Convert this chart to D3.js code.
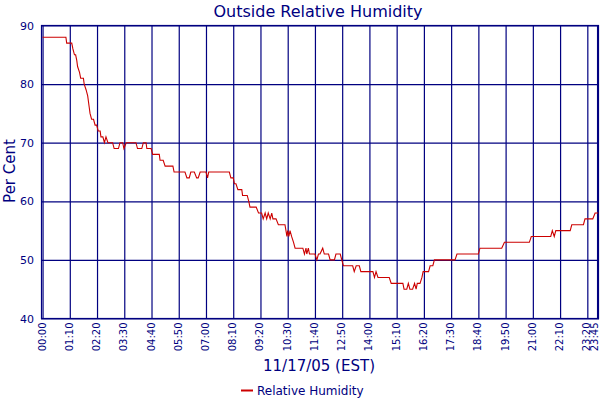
<!DOCTYPE html>
<html>
<head>
<meta charset="utf-8">
<script src="https://cdn.jsdelivr.net/npm/d3@7/dist/d3.min.js"></script>
<style>
  html, body { margin: 0; padding: 0; background: #fff; }
  svg { display: block; font-family: "DejaVu Sans", Verdana, sans-serif; }
</style>
</head>
<body>
<svg id="chart" width="600" height="400"></svg>
<script>
// ---- data (minutes since midnight, relative humidity %) ----
const times = [0,60,62,75,78,82,85,88,90,95,98,105,107,112,116,120,122,126,131,135,139,143,148,150,155,159,163,168,180,184,195,199,206,209,215,240,244,255,259,266,268,279,283,300,302,310,315,335,338,366,371,377,381,390,396,400,405,420,424,427,480,484,490,493,497,502,508,512,514,523,526,530,533,549,555,563,567,572,576,580,585,589,592,600,606,623,628,630,633,636,640,645,649,669,673,677,679,683,686,700,705,709,713,720,724,735,739,750,754,765,769,773,797,801,806,814,818,849,853,857,862,866,891,896,926,929,936,940,944,951,956,960,963,970,975,978,981,992,996,1003,1007,1060,1065,1120,1124,1135,1180,1187,1251,1256,1306,1310,1315,1319,1356,1360,1390,1394,1414,1420,1428];
const humidity = [88,88,87,87,86,85,85,84,83,82,81,81,80,79,78,76,75,74,74,73,73,72,72,71,71,70,71,70,70,69,69,70,70,69,70,70,69,69,70,70,69,69,68,68,67,67,66,66,65,65,64,64,65,65,64,64,65,65,64,65,65,64,64,63,63,62,62,62,61,61,61,60,59,59,58,58,57,58,57,58,57,58,57,57,56,56,54,55,54,55,54,53,52,52,51,52,51,52,51,51,50,51,51,52,51,51,50,50,51,51,50,49,49,48,49,49,48,48,47,48,47,47,47,46,46,45,45,46,45,45,46,45,46,46,47,48,48,48,49,49,50,50,51,51,52,52,52,53,53,54,54,55,54,55,55,56,56,57,57,58,58];
const xTickMinutes = [0,70,140,210,280,350,420,490,560,630,700,770,840,910,980,1050,1120,1190,1260,1330,1400,1425];
const xTickLabels = ["00:00","01:10","02:20","03:30","04:40","05:50","07:00","08:10","09:20","10:30","11:40","12:50","14:00","15:10","16:20","17:30","18:40","19:50","21:00","22:10","23:20","23:45"];
const yTicks = [40,50,60,70,80,90];
const titleText = "Outside Relative Humidity";
const xTitleText = "11/17/05 (EST)";
const yTitleText = "Per Cent";
const seriesName = "Relative Humidity";

// ---- drawing ----
const navy = "#000080";
const red = "#cc0000";
const svg = d3.select("#chart");
const plot = { left: 41, right: 599, top: 25.5, bottom: 318.5 };

const x = d3.scaleLinear().domain([-4, 1430]).range([plot.left, plot.right]);
const y = d3.scaleLinear().domain([40, 90]).range([plot.bottom, plot.top]);

// plot frame
svg.append("rect")
  .attr("x", plot.left + 0.5).attr("y", plot.top)
  .attr("width", plot.right - plot.left - 1).attr("height", plot.bottom - plot.top)
  .attr("fill", "none").attr("stroke", navy).attr("stroke-width", 1.2);

// horizontal grid + y axis labels
const yAxis = d3.axisLeft(y).tickValues(yTicks).tickSize(-(plot.right - plot.left)).tickPadding(7);
const gy = svg.append("g").attr("transform", `translate(${plot.left},0)`).call(yAxis);
gy.select(".domain").remove();
gy.selectAll("line").attr("stroke", navy).attr("stroke-width", 1.2);
gy.selectAll("text").attr("fill", navy).attr("font-size", 11).attr("font-family", "DejaVu Sans, sans-serif");

// vertical grid + x labels
const xAxis = d3.axisBottom(x).tickValues(xTickMinutes)
  .tickFormat((d, i) => xTickLabels[i])
  .tickSize(-(plot.bottom - plot.top)).tickPadding(0);
const gx = svg.append("g").attr("transform", `translate(0,${plot.bottom})`).call(xAxis);
gx.select(".domain").remove();
gx.selectAll("line").attr("stroke", navy).attr("stroke-width", 1.2);
const lastIdx = xTickLabels.length - 1;
gx.selectAll("text")
  .attr("fill", navy).attr("font-size", 10).attr("font-family", "DejaVu Sans, sans-serif")
  .attr("text-anchor", "end")
  .attr("dy", "0.25em")
  .attr("transform", (d, i) => `translate(${i === lastIdx ? -2.2 : 0},4) rotate(-90)`)
  .attr("x", 0).attr("y", 0);

// series line
const data = times.map((t, i) => ({ t, v: humidity[i] }));
const line = d3.line().x(d => x(d.t)).y(d => y(d.v));
svg.append("path").datum(data)
  .attr("d", line).attr("fill", "none")
  .attr("stroke", red).attr("stroke-width", 1.1).attr("stroke-linejoin", "miter");

// titles
svg.append("text").attr("x", 318).attr("y", 17).attr("text-anchor", "middle")
  .attr("fill", navy).attr("font-size", 16).text(titleText);
svg.append("text").attr("x", 319).attr("y", 371).attr("text-anchor", "middle")
  .attr("fill", navy).attr("font-size", 15).text(xTitleText);
svg.append("text").attr("transform", "translate(15,171) rotate(-90)").attr("text-anchor", "middle")
  .attr("fill", navy).attr("font-size", 15).text(yTitleText);

// legend
svg.append("line").attr("x1", 241).attr("x2", 253).attr("y1", 390.5).attr("y2", 390.5)
  .attr("stroke", red).attr("stroke-width", 2);
svg.append("text").attr("x", 257).attr("y", 395).attr("fill", navy)
  .attr("font-size", 12).text(seriesName);
</script>
</body>
</html>
